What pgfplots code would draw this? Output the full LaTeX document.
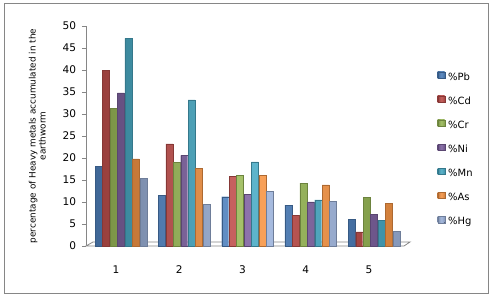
\documentclass[border=0pt]{standalone}
\usepackage{pgfplots}
\usepackage{pgfplotstable}
\pgfplotsset{compat=1.18}
\usepackage{fontspec}
\setmainfont{DejaVu Sans}
\definecolor{cPb}{HTML}{4F81BD}
\definecolor{cCd}{HTML}{C0504D}
\definecolor{cCr}{HTML}{9BBB59}
\definecolor{cNi}{HTML}{8064A2}
\definecolor{cMn}{HTML}{4BACC6}
\definecolor{cAs}{HTML}{F79646}
\definecolor{cHg}{HTML}{9DB3DB}
\definecolor{axgray}{HTML}{868686}
\pgfplotstableread{
x  Pb   Cd   Cr   Ni   Mn   As   Hg
1 18.1 40.0 31.3 34.8 47.2 19.8 15.4
2 11.5 23.2 19.0 20.6 33.2 17.6 9.5
3 11.2 15.9 16.0 11.7 19.1 16.1 12.5
4 9.3  7.0  14.3 10.0 10.5 13.9 10.1
5 6.0  3.2  11.0 7.2  5.9  9.7  3.3
}\data
\begin{document}
\begin{tikzpicture}
\path[use as bounding box] (0,0) rectangle (492bp,296bp);
\draw[color=axgray, line width=0.8bp] (4.5bp,2.5bp) rectangle (488bp,293bp);
\begin{axis}[
  at={(86bp,50bp)}, anchor=south west,
  scale only axis, width=318bp, height=220bp,
  xmin=0.447, xmax=5.474, ymin=0, ymax=50,
  ytick={0,5,...,50}, xtick={1,2,3,4,5},
  axis y line*=left, axis x line*=bottom,
  x axis line style={draw=none},
  y axis line style={draw=axgray, line width=0.8bp},
  xtick style={draw=none},
  ytick style={draw=axgray, line width=0.8bp},
  tick align=outside, major tick length=4bp,
  ticklabel style={font=\fontsize{10.6}{12}\selectfont},
  xticklabel style={yshift=-12bp, xshift=-5bp},
  yticklabel style={xshift=-2.5bp},
  /pgf/number format/assume math mode=true,
  ylabel={percentage of Heavy metals accumulated in the\\earthworm},
  ylabel style={at={(axis description cs:-0.153,0.5)}, anchor=center, align=center,
    font=\fontsize{8.9}{10.2}\selectfont},
  ybar=0.43bp, bar width=7bp,
  clip=false,
  legend style={at={(1.105,0.793)}, anchor=north west, draw=none, fill=none,
    font=\fontsize{10}{12}\selectfont, row sep=13.2bp, column sep=3.3bp,
    inner sep=0pt, nodes={inner sep=0pt, text height=7bp, text depth=2bp},
    legend cell align=left},
  legend image code/.code={\fill[#1] (0,-0.3bp) rectangle (7bp,6.2bp);},
]
\draw[axgray, line width=0.8bp, fill=white] (axis cs:0.447,0) -- (axis cs:5.474,0)
   -- ++(6bp,4bp) -- ([shift={(7bp,4bp)}]axis cs:0.447,0) -- cycle;
\addplot[draw=cPb!70!black, line width=0.3bp, left color=cPb!80!black, right color=cPb!85!black, middle color=cPb!90!white] table[x=x,y=Pb]{\data};
\addplot[draw=cCd!70!black, line width=0.3bp, left color=cCd!80!black, right color=cCd!85!black, middle color=cCd!90!white] table[x=x,y=Cd]{\data};
\addplot[draw=cCr!70!black, line width=0.3bp, left color=cCr!80!black, right color=cCr!85!black, middle color=cCr!90!white] table[x=x,y=Cr]{\data};
\addplot[draw=cNi!70!black, line width=0.3bp, left color=cNi!80!black, right color=cNi!85!black, middle color=cNi!90!white] table[x=x,y=Ni]{\data};
\addplot[draw=cMn!70!black, line width=0.3bp, left color=cMn!80!black, right color=cMn!85!black, middle color=cMn!90!white] table[x=x,y=Mn]{\data};
\addplot[draw=cAs!70!black, line width=0.3bp, left color=cAs!80!black, right color=cAs!85!black, middle color=cAs!90!white] table[x=x,y=As]{\data};
\addplot[draw=cHg!70!black, line width=0.3bp, left color=cHg!80!black, right color=cHg!85!black, middle color=cHg!90!white] table[x=x,y=Hg]{\data};
\legend{\%Pb,\%Cd,\%Cr,\%Ni,\%Mn,\%As,\%Hg}
\end{axis}
\end{tikzpicture}
\end{document}
